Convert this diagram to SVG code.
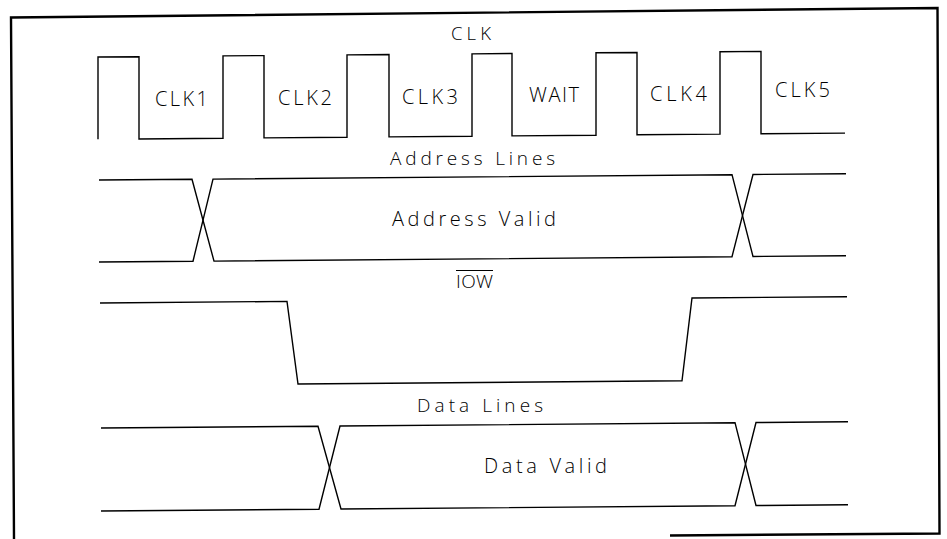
<svg xmlns="http://www.w3.org/2000/svg" width="947" height="539" viewBox="0 0 947 539">
  <style>
    .frame { fill: none; stroke: #000; stroke-width: 2.4; stroke-linejoin: miter; }
    .wave { fill: none; stroke: #000; stroke-width: 1.4; stroke-linejoin: miter; }
    .lbl { font-family: "Open Sans", "Liberation Sans", Arial, sans-serif; font-weight: 300; font-size: 20px; fill: #000; }
    .sig { font-family: "Open Sans", "Liberation Sans", Arial, sans-serif; font-weight: 300; font-size: 19px; fill: #000; }
  </style>
  <rect width="947" height="539" fill="#fff"/>

  <!-- outer frame (open at the lower left) -->
  <path class="frame" d="M14,539 L11,17.5 L937.5,8 L939.5,533.5 L670,535.5"/>

  <!-- clock -->
  <g id="clk">
    <text class="sig" x="451" y="40" textLength="40" lengthAdjust="spacing" style="font-size:18.5px">CLK</text>
    <polyline class="wave" points="98,139.3 98,57 139,56.7 139,139 223,138.3 223,55.9 264,55.6 264,137.9 347,137.2 347,54.9 389,54.5 389,136.9 472,136.2 472,53.9 512,53.5 512,135.9 596,135.2 596,52.8 637,52.5 637,134.8 720,134.1 720,51.8 761,51.4 761,133.8 845,133.1"/>
    <text class="lbl" x="155" y="106" textLength="53" lengthAdjust="spacing">CLK1</text>
    <text class="lbl" x="278" y="105" textLength="54" lengthAdjust="spacing">CLK2</text>
    <text class="lbl" x="402" y="103.5" textLength="56" lengthAdjust="spacing">CLK3</text>
    <text class="lbl" x="529" y="102" textLength="50" lengthAdjust="spacing">WAIT</text>
    <text class="lbl" x="650" y="101" textLength="57" lengthAdjust="spacing">CLK4</text>
    <text class="lbl" x="775" y="97" textLength="55" lengthAdjust="spacing">CLK5</text>
  </g>

  <!-- address bus -->
  <g id="address">
    <text class="sig" x="390" y="165" textLength="165" lengthAdjust="spacing">Address Lines</text>
    <polyline class="wave" points="99,180 192,179.2 214,261.1 732,256.7 753,174.5 846,173.7"/>
    <polyline class="wave" points="99,262 193,261.2 213,179.1 732,174.7 753,256.5 846,255.7"/>
    <text class="lbl" x="392" y="226" textLength="164" lengthAdjust="spacing">Address Valid</text>
  </g>

  <!-- I/O write strobe -->
  <g id="iow">
    <text class="sig" x="456" y="288" textLength="37" lengthAdjust="spacing">IOW</text>
    <line class="wave" x1="456" y1="270.5" x2="493" y2="270.5" style="stroke-width:1"/>
    <polyline class="wave" points="100,303 287,301.4 298,384 682,380.8 692,298 847,296.7"/>
  </g>

  <!-- data bus -->
  <g id="data">
    <text class="sig" x="417" y="412" textLength="126" lengthAdjust="spacing">Data Lines</text>
    <polyline class="wave" points="101,428 318,426.2 341,509 735,505.7 756,422.5 848,421.7"/>
    <polyline class="wave" points="101,511 319,509.2 340,426 735,422.7 756,505.5 848,504.7"/>
    <text class="lbl" x="484" y="473" textLength="123" lengthAdjust="spacing">Data Valid</text>
  </g>
</svg>
